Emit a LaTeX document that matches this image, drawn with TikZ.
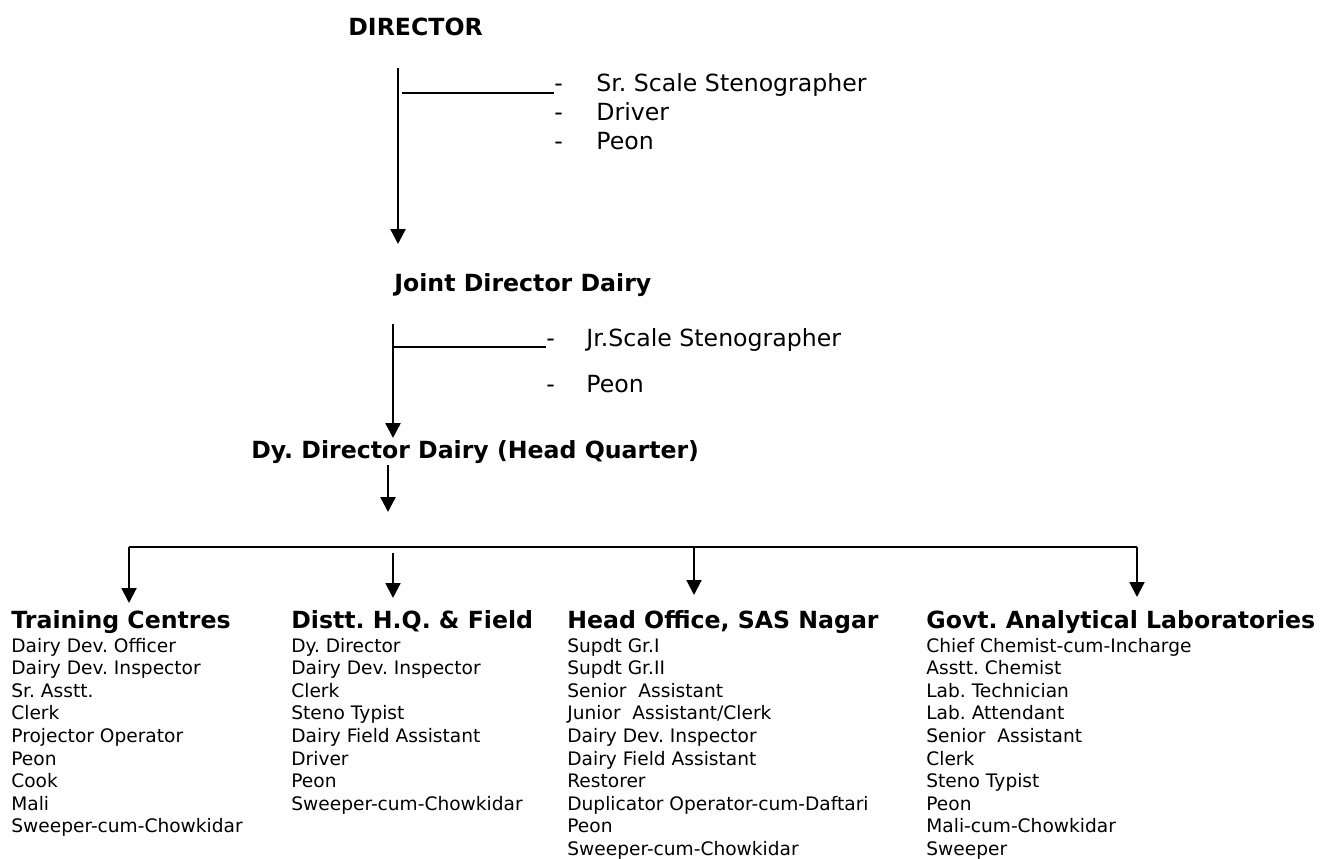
\documentclass[tikz,border=0pt]{standalone}
\usepackage{fontspec}
\setmainfont{DejaVu Sans}
\usetikzlibrary{arrows.meta}
\frenchspacing

\tikzset{
  head/.style={anchor=base west, inner sep=0pt, font=\fontsize{12.7}{15}\selectfont\bfseries},
  side/.style={anchor=base west, inner sep=0pt, font=\fontsize{12.7}{15}\selectfont},
  item/.style={anchor=base west, inner sep=0pt, font=\fontsize{10}{12}\selectfont},
  stem/.style={line width=1.3pt, -{Triangle[width=8pt,length=8pt]}},
  branch/.style={line width=0.8pt},
}

\begin{document}
\begin{tikzpicture}[x=0.5376pt, y=-0.5376pt]
    \useasboundingbox (0,0) rectangle (1320,859);

    % Top levels
    \node[head] (dir) at (348,36) {DIRECTOR};
    \node[head] (jdd) at (394,291) {Joint Director Dairy};
    \node[head] (ddd) at (251,458) {Dy. Director Dairy (Head Quarter)};

    % Staff of the Director
    \node[side] (dirdash1) at (554,92) {-};
    \node[side] (dirdash2) at (554,121) {-};
    \node[side] (dirdash3) at (554,150) {-};
    \node[side] (dirst1) at (596,92) {Sr. Scale Stenographer};
    \node[side] (dirst2) at (596,121) {Driver};
    \node[side] (dirst3) at (596,150) {Peon};

    % Staff of the Joint Director
    \node[side] (jdddash1) at (546,346) {-};
    \node[side] (jdddash2) at (546,392) {-};
    \node[side] (jddst1) at (586,346) {Jr.Scale Stenographer};
    \node[side] (jddst2) at (586,392) {Peon};

    % Stems
    \coordinate (dirtop) at (398,68);
    \coordinate (dirtip) at (398,244);
    \coordinate (dirfork) at (402,93);
    \draw[stem] (dirtop) -- (dirtip);
    \draw[branch] (dirfork) -- (dirfork -| dirdash1.west);

    \coordinate (jddtop) at (393,324);
    \coordinate (jddtip) at (393,438);
    \coordinate (jddfork) at (393,347);
    \draw[stem] (jddtop) -- (jddtip);
    \draw[branch] (jddfork) -- (jddfork -| jdddash1.west);

    \coordinate (dddtop) at (388,465);
    \coordinate (dddtip) at (388,512);
    \draw[stem] (dddtop) -- (dddtip);

    % Bus to the four wings
    \coordinate (busl) at (129,547);
    \coordinate (busr) at (1137,547);
    \coordinate (bushq) at (393,553);
    \coordinate (busho) at (694,547);
    \draw[line width=1.1pt] (busl) -- (busr);
    \draw[stem, line width=1.1pt] (busl) -- (129,603);
    \draw[stem, line width=1.1pt] (bushq) -- (393,598);
    \draw[stem, line width=1.1pt] (busho) -- (694,595);
    \draw[stem, line width=1.1pt] (busr) -- (1137,597);

    % Wings
    \node[head] (tc) at (11,628) {Training Centres};
    \node[head] (hq) at (291,628) {Distt. H.Q. \& Field};
    \node[head] (ho) at (567,628) {Head Office, SAS Nagar};
    \node[head] (gal) at (926,628) {Govt. Analytical Laboratories};

    % Posts
    \foreach \post [count=\i] in {Dairy Dev. Officer, Dairy Dev. Inspector, Sr. Asstt., Clerk, Projector Operator, Peon, Cook, Mali, Sweeper-cum-Chowkidar}
        \node[item] (tc\i) at (11,{652+22.6*(\i-1)}) {\post};
    \foreach \post [count=\i] in {Dy. Director, Dairy Dev. Inspector, Clerk, Steno Typist, Dairy Field Assistant, Driver, Peon, Sweeper-cum-Chowkidar}
        \node[item] (hq\i) at (291,{652+22.6*(\i-1)}) {\post};
    \foreach \post [count=\i] in {Supdt Gr.I, Supdt Gr.II, Senior~ Assistant, Junior~ Assistant/Clerk, Dairy Dev. Inspector, Dairy Field Assistant, Restorer, Duplicator Operator-cum-Daftari, Peon, Sweeper-cum-Chowkidar}
        \node[item] (ho\i) at (567,{652+22.6*(\i-1)}) {\post};
    \foreach \post [count=\i] in {Chief Chemist-cum-Incharge, Asstt. Chemist, Lab. Technician, Lab. Attendant, Senior~ Assistant, Clerk, Steno Typist, Peon, Mali-cum-Chowkidar, Sweeper}
        \node[item] (gal\i) at (926,{652+22.6*(\i-1)}) {\post};
\end{tikzpicture}
\end{document}
